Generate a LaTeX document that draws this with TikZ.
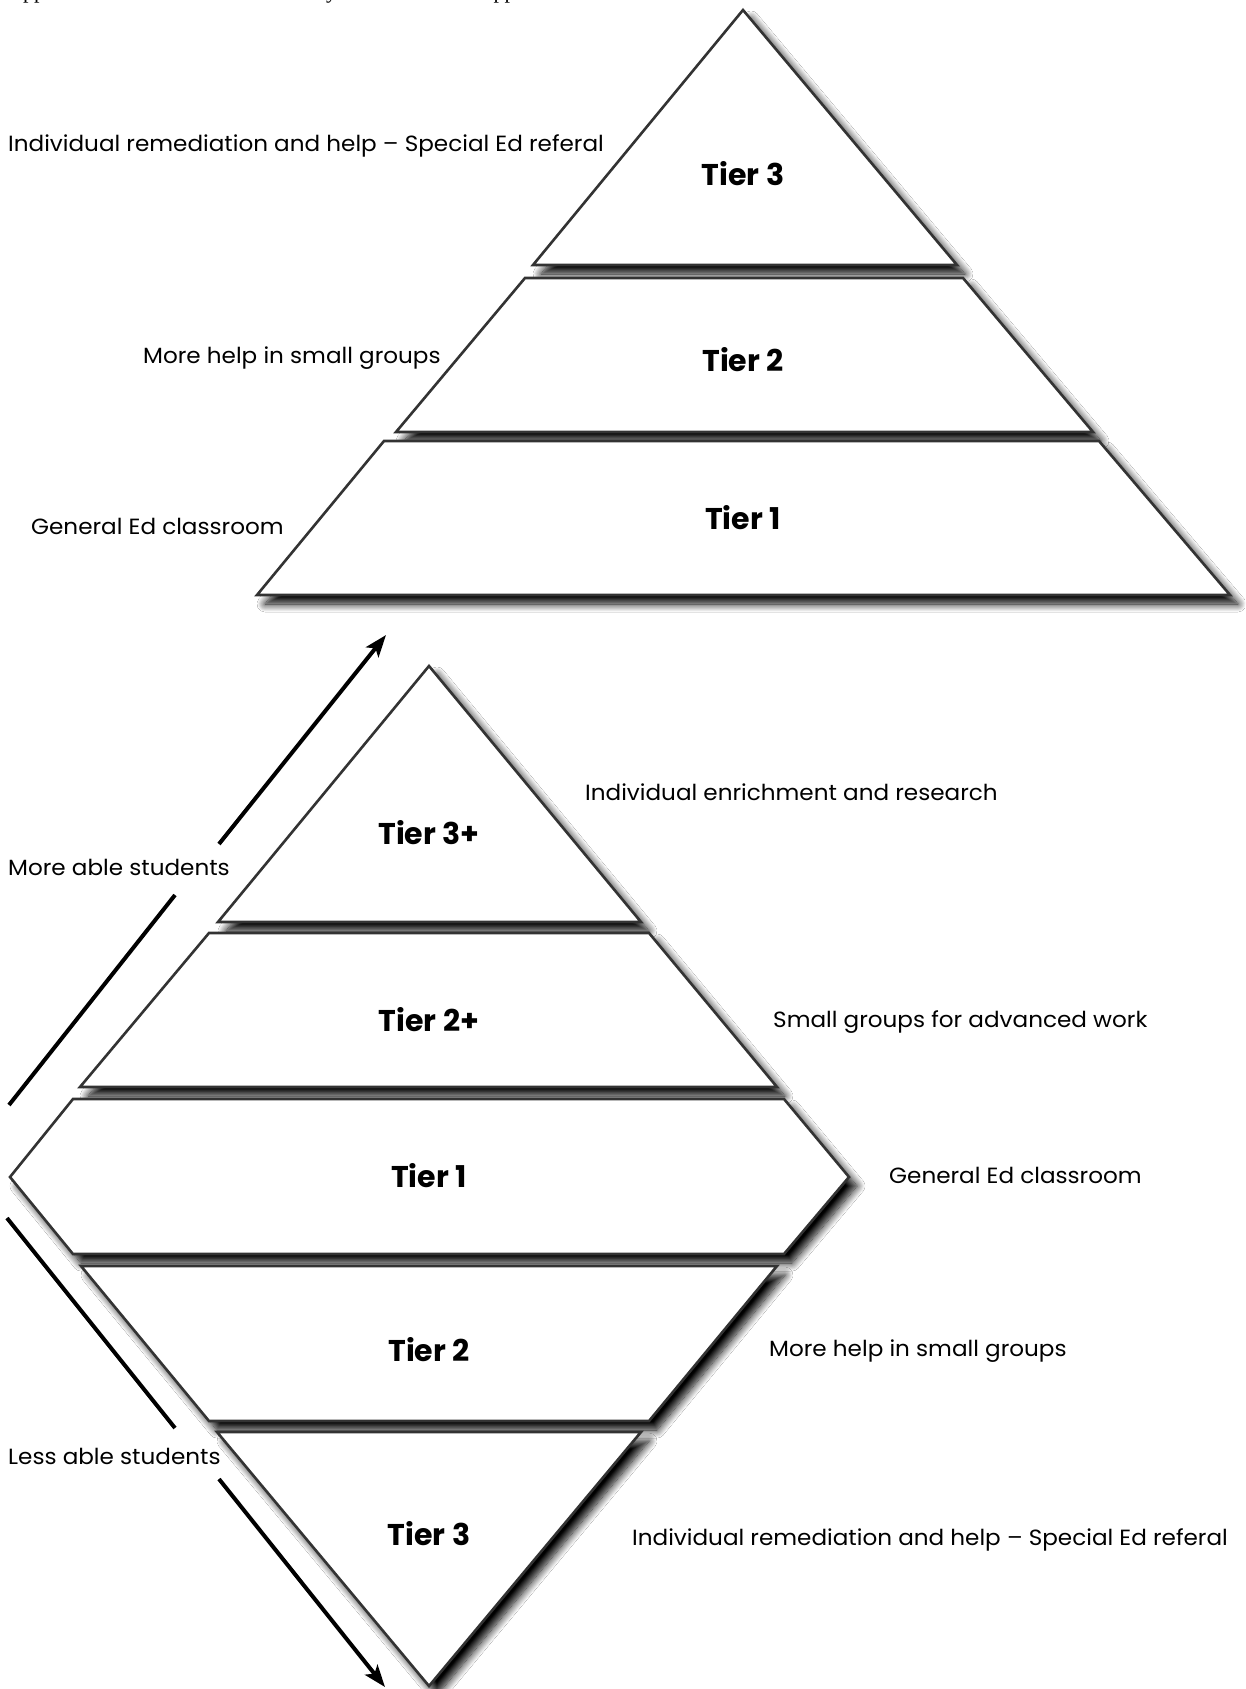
\documentclass[tikz,border=0pt]{standalone}
\usepackage{fontspec}
\setmainfont{Poppins}
\newfontfamily\labelfont[FakeStretch=1.05]{Poppins}
\newfontfamily\serifline{Liberation Serif}
\usetikzlibrary{shadows.blur,arrows.meta}
\begin{document}
\begin{tikzpicture}[x=1pt,y=-1pt,
  tier/.style={draw=black!80, line width=2.6pt, fill=white, line join=miter,
    blur shadow={shadow xshift=8pt, shadow yshift=-9pt, shadow blur steps=12,
      shadow blur radius=8pt, shadow opacity=100}},
  tierlabel/.style={font=\fontsize{30}{34}\selectfont\bfseries, inner sep=0pt},
  sidelabel/.style={font=\labelfont\fontsize{22}{26}\selectfont, inner sep=0pt, anchor=west},
  ablearrow/.style={draw=black, line width=4pt},
  ablehead/.style={-{Stealth[length=22pt,width=16pt,inset=5pt]}}
]
\useasboundingbox (0,0) rectangle (1245,1689);
\fill[white] (0,0) rectangle (1245,1689);

% cut-off line at the very top (only its descenders show)
\node[anchor=base west, inner sep=0pt, font=\serifline\fontsize{22}{26}\selectfont] (topline) at (7,-1.5)
  {Approaches to intervention shown by the model that supports};

% ---------- upper pyramid ----------
\path[tier] (743,10) -- (957,265) -- (533,265) -- cycle;
\path[tier] (525,278) -- (963,278) -- (1093,432) -- (396,432) -- cycle;
\path[tier] (384,441) -- (1099,441) -- (1230,595) -- (257,595) -- cycle;

\node[tierlabel] (ut3) at (743,174) {Tier 3};
\node[tierlabel] (ut2) at (743,360) {Tier 2};
\node[tierlabel] (ut1) at (743,518) {Tier 1};

\node[sidelabel] (ul3) at (8,146) {Individual remediation and help – Special Ed referal};
\node[sidelabel] (ul2) at (143,358) {More help in small groups};
\node[sidelabel] (ul1) at (31,526) {General Ed classroom};

% ---------- lower diamond ----------
\path[tier] (429,666) -- (641,922) -- (218,922) -- cycle;
\path[tier] (209,933) -- (649,933) -- (777,1087) -- (80,1087) -- cycle;
\path[tier] (73,1099) -- (784,1099) -- (849,1177) -- (784,1254) -- (73,1254) -- (10,1177) -- cycle;
\path[tier] (81,1266) -- (777,1266) -- (649,1421) -- (209,1421) -- cycle;
\path[tier] (217,1432) -- (641,1432) -- (429,1686) -- cycle;

\node[tierlabel] (lt3p) at (429,833) {Tier 3+};
\node[tierlabel] (lt2p) at (429,1020) {Tier 2+};
\node[tierlabel] (lt1) at (429,1176) {Tier 1};
\node[tierlabel] (lt2) at (429,1350) {Tier 2};
\node[tierlabel] (lt3) at (429,1534) {Tier 3};

\node[sidelabel] (lr3p) at (585,792) {Individual enrichment and research};
\node[sidelabel] (lr2p) at (773,1022) {Small groups for advanced work};
\node[sidelabel] (lr1) at (889,1175) {General Ed classroom};
\node[sidelabel] (lr2) at (769,1351) {More help in small groups};
\node[sidelabel] (lr3) at (632,1540) {Individual remediation and help – Special Ed referal};

\node[sidelabel] (more) at (8,867) {More able students};
\node[sidelabel] (less) at (8,1456) {Less able students};

% ---------- arrows ----------
\coordinate (ua1) at (9,1105);
\coordinate (ua2) at (175,895);
\coordinate (ub1) at (219,844);
\coordinate (ub2) at (386,635);
\coordinate (la1) at (7,1218);
\coordinate (la2) at (175,1428);
\coordinate (lb1) at (219,1479);
\coordinate (lb2) at (385,1687);

\draw[ablearrow] (ua1) -- (ua2);
\draw[ablearrow, ablehead] (ub1) -- (ub2);
\draw[ablearrow] (la1) -- (la2);
\draw[ablearrow, ablehead] (lb1) -- (lb2);
\end{tikzpicture}
\end{document}
